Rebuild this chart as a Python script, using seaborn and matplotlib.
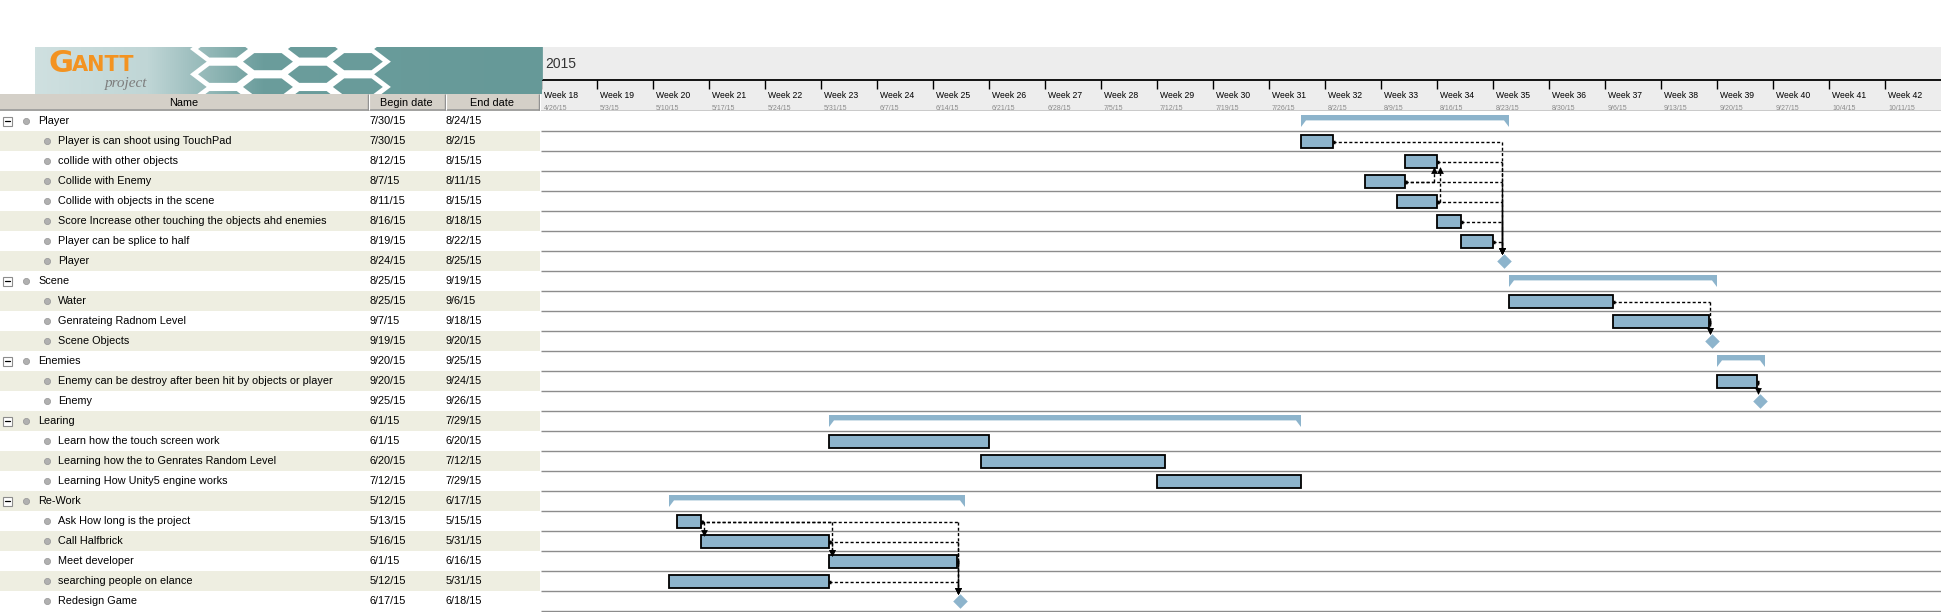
import numpy as np
import pandas as pd
import matplotlib
matplotlib.use("Agg")
import matplotlib.pyplot as plt
import matplotlib.dates as mdates
from matplotlib.patches import Rectangle, Polygon
from matplotlib.colors import LinearSegmentedColormap
import seaborn as sns

# -----------------------------
# Task data
# -----------------------------
task_names = [
    "Player", "Player is can shoot using TouchPad", "collide with other objects",
    "Collide with Enemy", "Collide with objects in the scene",
    "Score Increase other touching the objects ahd enemies",
    "Player can be splice to half", "Player",
    "Scene", "Water", "Genrateing Radnom Level", "Scene Objects",
    "Enemies", "Enemy can be destroy after been hit by objects or player", "Enemy",
    "Learing", "Learn how the touch screen work",
    "Learning how the to Genrates Random Level", "Learning How Unity5 engine works",
    "Re-Work", "Ask How long is the project", "Call Halfbrick", "Meet developer",
    "searching people on elance", "Redesign Game",
]
begin_dates = [
    "2015-07-30", "2015-07-30", "2015-08-12", "2015-08-07", "2015-08-11",
    "2015-08-16", "2015-08-19", "2015-08-24",
    "2015-08-25", "2015-08-25", "2015-09-07", "2015-09-19",
    "2015-09-20", "2015-09-20", "2015-09-25",
    "2015-06-01", "2015-06-01", "2015-06-20", "2015-07-12",
    "2015-05-12", "2015-05-13", "2015-05-16", "2015-06-01", "2015-05-12", "2015-06-17",
]
end_dates = [
    "2015-08-24", "2015-08-02", "2015-08-15", "2015-08-11", "2015-08-15",
    "2015-08-18", "2015-08-22", "2015-08-25",
    "2015-09-19", "2015-09-06", "2015-09-18", "2015-09-20",
    "2015-09-25", "2015-09-24", "2015-09-26",
    "2015-07-29", "2015-06-20", "2015-07-12", "2015-07-29",
    "2015-06-17", "2015-05-15", "2015-05-31", "2015-06-16", "2015-05-31", "2015-06-18",
]
task_levels = [0, 1, 1, 1, 1, 1, 1, 1,
               0, 1, 1, 1,
               0, 1, 1,
               0, 1, 1, 1,
               0, 1, 1, 1, 1, 1]
task_kinds = ["summary", "task", "task", "task", "task", "task", "task", "milestone",
              "summary", "task", "task", "milestone",
              "summary", "task", "milestone",
              "summary", "task", "task", "task",
              "summary", "task", "task", "task", "task", "milestone"]

# dependencies (predecessor row -> successor row)
dep_from = [1, 2, 3, 4, 5, 6, 3, 4, 9, 10, 13, 20, 20, 21, 20, 21, 22, 23]
dep_to = [7, 7, 7, 7, 7, 7, 2, 2, 11, 11, 14, 21, 22, 22, 24, 24, 24, 24]
dep_type = ["FS", "FS", "FS", "FS", "FS", "FS", "FF", "FF", "FS", "FS", "FS",
            "FS", "FS", "FS", "FS", "FS", "FS", "FS"]

timeline_start = "2015-04-26"
week_numbers = list(range(18, 43))
year_label = "2015"

# -----------------------------
# Styling
# -----------------------------
W, H = 1941, 612
BAR = "#8db4cc"
BEIGE = "#eeeee1"
ROWLINE = "#8c8c8c"
HEADER_GRAY = "#d4d0c8"
TIMELINE_GRAY = "#ededed"

sns.set_theme(style="white")
plt.rcParams["font.family"] = ["Liberation Sans", "DejaVu Sans"]

fig = plt.figure(figsize=(W / 100, H / 100), dpi=100)
fig.patch.set_facecolor("white")


def px_axes(x0, y0, x1, y1):
    a = fig.add_axes([x0 / W, 1 - y1 / H, (x1 - x0) / W, (y1 - y0) / H])
    a.set_axis_off()
    return a


df = pd.DataFrame({
    "name": task_names,
    "begin": pd.to_datetime(begin_dates),
    "end": pd.to_datetime(end_dates),
    "level": task_levels,
    "kind": task_kinds,
})
df["row"] = np.arange(len(df))
df["b"] = mdates.date2num(df["begin"])
df["e"] = mdates.date2num(df["end"]) + 1
n_rows = len(df)

x_lo = mdates.date2num(pd.Timestamp(timeline_start))
x_hi = x_lo + 175
PX = 175 / 1400  # one pixel in days

# -----------------------------
# Gantt chart area
# -----------------------------
ax = px_axes(541, 111, 1941, 611)
ax.set_xlim(x_lo, x_hi)
ax.set_ylim(n_rows, 0)
ax.hlines(np.arange(1, n_rows + 1), x_lo, x_hi, color=ROWLINE, lw=1.0, zorder=1, clip_on=False)

tasks = df[df["kind"] == "task"]
ax.barh(tasks["row"] + 0.525, tasks["e"] - tasks["b"], left=tasks["b"], height=0.62,
        color=BAR, edgecolor="black", linewidth=1.3, zorder=3)

for _, r in df[df["kind"] == "summary"].iterrows():
    i, x0, x1 = r["row"], r["b"], r["e"]
    tri = 5 * PX
    ax.add_patch(Polygon([(x0, i + 0.2), (x1, i + 0.2), (x1, i + 0.8), (x1 - tri, i + 0.47),
                          (x0 + tri, i + 0.47), (x0, i + 0.8)],
                         closed=True, facecolor=BAR, edgecolor="none", zorder=3))

ms = df[df["kind"] == "milestone"].copy()
ms["x"] = ms["b"] + 0.35
ms["y"] = ms["row"] + 0.5
sns.scatterplot(data=ms, x="x", y="y", marker="D", s=55, color=BAR, edgecolor=BAR,
                linewidth=0, ax=ax, legend=False, zorder=4)
ax.set_xlim(x_lo, x_hi)
ax.set_ylim(n_rows, 0)
ax.set_axis_off()

dash = dict(color="black", lw=1.0, linestyle=(0, (2.2, 1.6)), zorder=2)
for p, s, t in zip(dep_from, dep_to, dep_type):
    y0 = p + 0.525
    xs = df.loc[p, "e"]
    if df.loc[s, "kind"] == "milestone":
        xv = df.loc[s, "b"] + 0.35 - 1.5 * PX
        y1 = s + 0.12
    elif t == "FS":
        xv = df.loc[s, "b"] + 3 * PX
        y1 = s + 0.2 if s > p else s + 0.84
    else:
        xv = df.loc[s, "e"] + (3 * PX if xs >= df.loc[s, "e"] else -3 * PX)
        y1 = s + 0.2 if s > p else s + 0.84
    ax.plot([xs, xv], [y0, y0], **dash)
    ax.plot([xv, xv], [y0, y1], **dash)
    if s > p:
        ax.scatter([xv], [y1 - 0.12], marker="v", s=24, color="black", linewidths=0, zorder=5)
    else:
        ax.scatter([xv], [y1 + 0.12], marker="^", s=24, color="black", linewidths=0, zorder=5)
    ax.plot([xs, xs + 1.5 * PX], [y0, y0], color="black", lw=2.5, zorder=4,
            solid_capstyle="butt")

# -----------------------------
# Timeline header
# -----------------------------
axh = px_axes(541, 47, 1941, 111)
axh.set_xlim(x_lo, x_hi)
axh.set_ylim(111, 47)
axh.add_patch(Rectangle((x_lo, 47), x_hi - x_lo, 64, color=TIMELINE_GRAY, zorder=0))
axh.hlines(80, x_lo, x_hi, color="black", lw=1.3)
axh.hlines(110.5, x_lo, x_hi, color="#c4c4c4", lw=1.2)
axh.vlines(x_lo + 0.5 * PX, 47, 80, color="#5f9594", lw=1.2)
axh.text(x_lo + 4 * PX, 63.5, year_label, fontsize=10, color="#333333", va="center", ha="left")
week_starts = pd.date_range(timeline_start, periods=len(week_numbers), freq="7D")
for wn, ws in zip(week_numbers, week_starts):
    xw = mdates.date2num(ws)
    axh.vlines(xw, 80, 89, color="black", lw=1.0)
    axh.text(xw + 3 * PX, 95.5, f"Week {wn}", fontsize=6.2, color="black", va="center", ha="left")
    axh.text(xw + 3 * PX, 108, f"{ws.month}/{ws.day}/{ws.year % 100}", fontsize=5.0,
             color="#8a8a8a", va="center", ha="left")

# -----------------------------
# Task table
# -----------------------------
axt = px_axes(0, 111, 541, 611)
axt.set_xlim(0, 541)
axt.set_ylim(n_rows, 0)
for i in range(1, n_rows, 2):
    axt.add_patch(Rectangle((0, i), 540, 1, color=BEIGE, zorder=0, lw=0))
for _, r in df.iterrows():
    i = r["row"]
    yc = i + 0.52
    if r["level"] == 0:
        axt.add_patch(Rectangle((3, i + 0.28), 9, 0.45, facecolor="white", edgecolor="#8c8c8c",
                                lw=0.8, zorder=2))
        axt.plot([5, 10], [i + 0.505, i + 0.505], color="black", lw=0.9, zorder=3)
        dot_x, txt_x = 26, 38
    else:
        dot_x, txt_x = 47, 58
    axt.scatter([dot_x], [yc - 0.03], s=20, color="#b0b0b0", edgecolors="#959595",
                linewidths=0.5, zorder=3)
    axt.text(txt_x, yc, r["name"], fontsize=7.8, color="black", va="center", ha="left")
    for col_x, d in ((370, r["begin"]), (446, r["end"])):
        axt.text(col_x, yc, f"{d.month}/{d.day}/{d.year % 100}", fontsize=7.8,
                 color="black", va="center", ha="left")

# table header
axth = px_axes(0, 94, 541, 111)
axth.set_xlim(0, 541)
axth.set_ylim(17, 0)
axth.add_patch(Rectangle((0, 0), 540, 17, color=HEADER_GRAY, zorder=0, lw=0))
axth.hlines(16.2, 0, 540, color="#9a9a9a", lw=1.2)
for sx in (368, 445, 539):
    axth.vlines(sx, 0, 16, color="#8c8c8c", lw=1.0)
    axth.vlines(sx + 1, 0, 16, color="white", lw=0.8)
for label, cx in (("Name", 184), ("Begin date", 406), ("End date", 492)):
    axth.text(cx, 8.5, label, fontsize=7.8, color="black", ha="center", va="center")

# -----------------------------
# GanttProject logo banner
# -----------------------------
axl = px_axes(35, 47, 541, 94)
axl.set_xlim(0, 506)
axl.set_ylim(47, 0)
grad = LinearSegmentedColormap.from_list(
    "logo", [(0, "#cfe0e0"), (0.22, "#c0d6d6"), (0.45, "#6b9d9c"), (1, "#669998")])
axl.imshow(np.linspace(0, 1, 506)[None, :], cmap=grad, extent=[0, 506, 47, 0], aspect="auto", zorder=0)
a_hex, b_hex = 29, 11
for k in range(4):
    cx = 188 + k * 1.55 * a_hex
    for j in range(-1, 3):
        cy = 2 + j * 2.3 * b_hex + (k % 2) * 1.15 * b_hex
        axl.add_patch(Polygon([(cx - a_hex, cy), (cx - a_hex / 2, cy - b_hex), (cx + a_hex / 2, cy - b_hex),
                               (cx + a_hex, cy), (cx + a_hex / 2, cy + b_hex), (cx - a_hex / 2, cy + b_hex)],
                              closed=True, facecolor="none", edgecolor="white", lw=3.5, zorder=1))
axl.set_xlim(0, 506)
axl.set_ylim(47, 0)
axl.text(14, 17, "G", fontsize=22, fontweight="bold", color="#f39321", va="center", ha="left",
         family=["DejaVu Sans"], zorder=3)
axl.text(37, 18, "ANTT", fontsize=15, fontweight="bold", color="#f39321", va="center", ha="left",
         family=["DejaVu Sans"], zorder=3)
axl.text(70, 37, "project", fontsize=11, style="italic", color="#7d7d7d",
         family=["Liberation Serif", "DejaVu Serif"], va="center", ha="left", zorder=3)

plt.savefig("out.png", dpi=100)
